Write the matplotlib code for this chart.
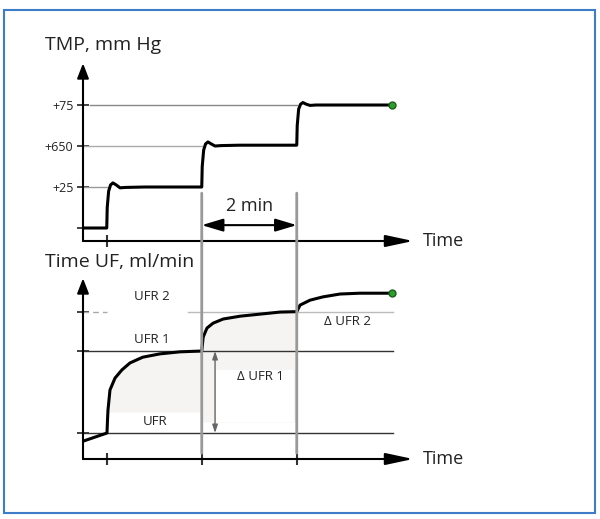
import matplotlib.pyplot as plt
from matplotlib.patches import Rectangle, ConnectionPatch

plt.rcParams['font.family'] = ['Open Sans', 'DejaVu Sans']

# --- data (time in minutes, levels in step units) ---
tmp_t = [0, 0.5, 0.51, 0.54, 0.58, 0.63, 0.7, 0.78, 0.9, 1.3, 2.5,
         2.51, 2.54, 2.58, 2.63, 2.7, 2.78, 2.9, 3.3, 4.5,
         4.51, 4.54, 4.58, 4.63, 4.7, 4.78, 4.9, 5.3, 6.5]
tmp_v = [0, 0, 0.5, 0.9, 1.05, 1.1, 1.05, 0.98, 0.99, 1.0, 1.0,
         1.5, 1.9, 2.05, 2.1, 2.05, 2.0, 2.01, 2.02, 2.02,
         2.5, 2.9, 3.02, 3.06, 3.02, 2.99, 3.0, 3.0, 3.0]
tmp_levels = [0, 1, 2, 3]
tmp_labels = ['', '+25', '+650', '+75']

uf_t = [0, 0.505, 0.516, 0.526, 0.568, 0.674, 0.82, 0.99, 1.26, 1.62, 2.04, 2.5,
        2.53, 2.61, 2.74, 2.95, 3.31, 3.73, 4.15, 4.5,
        4.57, 4.78, 5.05, 5.41, 5.83, 6.5]
uf_v = [-0.2, 0, 0.32, 0.56, 1.05, 1.34, 1.54, 1.71, 1.85, 1.93, 1.98, 2.0,
        2.34, 2.56, 2.68, 2.78, 2.85, 2.90, 2.95, 2.96,
        3.12, 3.24, 3.32, 3.39, 3.41, 3.41]
ufr, ufr1, ufr2 = 0.0, 2.0, 2.95
step_times = [0.5, 2.5, 4.5]

W, H = 600, 519
fig = plt.figure(figsize=(W / 100, H / 100), dpi=100)


def px_axes(left, top, right, bottom):
    return fig.add_axes([left / W, 1 - bottom / H, (right - left) / W, (bottom - top) / H])


# blue frame
fig.add_artist(Rectangle((4 / W, 1 - 513 / H), 591 / W, 503 / H, transform=fig.transFigure,
                         fill=False, edgecolor='#3f7cc8', lw=1.5))

ax1 = px_axes(83, 60, 415.5, 241)
ax1.set_xlim(0, 7)
ax1.set_ylim(-0.317, 4.098)
ax2 = px_axes(83, 275, 415.5, 459)
ax2.set_xlim(0, 7)
ax2.set_ylim(-0.634, 3.854)

for ax in (ax1, ax2):
    ax.patch.set_alpha(0)
    for s in ax.spines.values():
        s.set_visible(False)
    y0 = ax.get_ylim()[0]
    ax.annotate('', xy=(0, ax.get_ylim()[1] - 0.08), xytext=(0, y0),
                arrowprops=dict(arrowstyle='-|>,head_length=0.9,head_width=0.35', color='black',
                                lw=1.5, mutation_scale=10, shrinkA=0, shrinkB=0))
    ax.annotate('', xy=(6.95, y0), xytext=(0, y0),
                arrowprops=dict(arrowstyle='-|>,head_length=1.4,head_width=0.3', color='black',
                                lw=1.5, mutation_scale=12, shrinkA=0, shrinkB=0))
    ax.text(7.16, y0, 'Time', fontsize=13, va='center', ha='left', color='#222')
    ax.set_xticks(step_times)
    ax.set_xticklabels([])
    ax.tick_params(axis='x', direction='inout', length=9, width=1.5, color='#333')
    ax.tick_params(axis='y', direction='inout', length=8, width=1.3, color='#333', labelsize=9,
                   labelcolor='#222', pad=3)

# --- top panel: TMP ---
ax1.set_yticks(tmp_levels)
ax1.set_yticklabels(tmp_labels)
ax1.plot([0, 0.5], [1, 1], color='#999', lw=1)
ax1.plot([0, 2.5], [2, 2], color='#aaa', lw=1)
ax1.plot([0.15, 4.5], [3, 3], color='#888', lw=1)
ax1.plot(tmp_t, tmp_v, color='black', lw=2.2, solid_joinstyle='round', zorder=3)
ax1.plot(tmp_t[-1], tmp_v[-1], 'o', color='#2aa02a', mec='#1d5e1d', ms=5, zorder=4)
ax1.annotate('', xy=(4.5, 0.07), xytext=(2.5, 0.07),
             arrowprops=dict(arrowstyle='<|-|>,head_length=1.0,head_width=0.3', color='black',
                             lw=1.5, mutation_scale=13, shrinkA=0, shrinkB=0))
ax1.text(3.5, 0.54, '2 min', fontsize=13, ha='center', va='center', color='#222')

# --- bottom panel: UF ---
ax2.set_yticks([ufr, ufr1, ufr2])
ax2.set_yticklabels([])
seg1 = slice(1, 12)
seg2 = slice(11, 20)
ax2.fill_between(uf_t[seg1], uf_v[seg1], 0.51, color='#f6f4f2', lw=0, zorder=0)
ax2.fill_between(uf_t[seg2], uf_v[seg2], 0.27, color='#f6f4f2', lw=0, zorder=0)
ax2.add_patch(Rectangle((2.8, 0.27), 1.65, 1.27, color='white', lw=0, zorder=0.5))
ax2.plot([0, 6.53], [ufr, ufr], color='#333', lw=1)
ax2.plot([0, 6.53], [ufr1, ufr1], color='#333', lw=1)
ax2.plot([0, 0.5], [ufr2, ufr2], color='#aaa', lw=1, ls=(0, (4, 3)))
ax2.plot([2.2, 6.53], [ufr2, ufr2], color='#bbb', lw=1)
ax2.plot(uf_t, uf_v, color='black', lw=2.2, solid_joinstyle='round', zorder=3)
ax2.plot(uf_t[-1], uf_v[-1], 'o', color='#2aa02a', mec='#1d5e1d', ms=5, zorder=4)
ax2.annotate('', xy=(2.78, ufr1), xytext=(2.78, ufr),
             arrowprops=dict(arrowstyle='<|-|>,head_length=0.6,head_width=0.2', color='#666',
                             lw=1, mutation_scale=8, shrinkA=0, shrinkB=0))
ax2.text(1.45, 3.32, 'UFR 2', fontsize=9.5, ha='center', va='center', color='#222')
ax2.text(1.45, 2.27, 'UFR 1', fontsize=9.5, ha='center', va='center', color='#222')
ax2.text(1.52, 0.29, 'UFR', fontsize=9.5, ha='center', va='center', color='#222')
ax2.text(3.73, 1.37, '\u0394 UFR 1', fontsize=9.5, ha='center', va='center', color='#222')
ax2.text(5.56, 2.71, '\u0394 UFR 2', fontsize=9.5, ha='center', va='center', color='#222')

# vertical guide lines through both panels
for t in step_times[1:]:
    con = ConnectionPatch(xyA=(t, 0.85), coordsA=ax1.transData, xyB=(t, -0.49),
                          coordsB=ax2.transData, color='#999', lw=2, zorder=1)
    fig.add_artist(con)

fig.text(45 / W, 1 - 45 / H, 'TMP, mm Hg', fontsize=14, va='center', ha='left', color='#222')
fig.text(45 / W, 1 - 262 / H, 'Time UF, ml/min', fontsize=14, va='center', ha='left', color='#222')

fig.savefig('out.png', dpi=100)
